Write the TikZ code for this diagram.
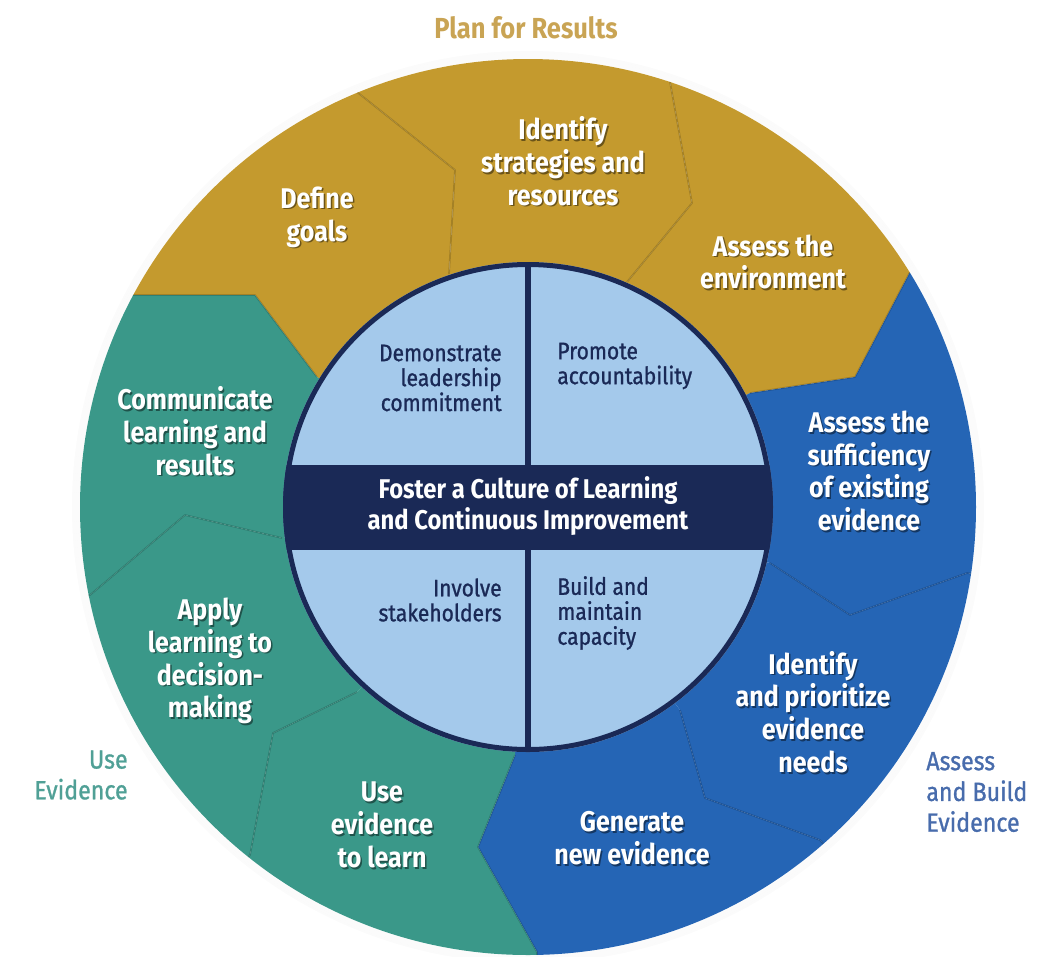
\documentclass[tikz,border=0pt]{standalone}
\usepackage{fontspec}
\setmainfont{Fira Sans}[FakeStretch=0.88]
\newfontfamily\hubfamily{Fira Sans}[FakeStretch=0.88, FakeBold=1]
\usetikzlibrary{calc}
\definecolor{goldseg}{RGB}{196,154,46}
\definecolor{tealseg}{RGB}{58,152,137}
\definecolor{blueseg}{RGB}{37,101,181}
\definecolor{hubfill}{RGB}{164,201,235}
\definecolor{navy}{RGB}{26,41,86}
\definecolor{goldlbl}{RGB}{201,164,84}
\definecolor{teallbl}{RGB}{80,160,150}
\definecolor{bluelbl}{RGB}{72,108,172}

\begin{document}
\begin{tikzpicture}[%
    x=0.2mm, y=-0.2mm,          % one unit is one pixel of the reference
    ]
% -------------------------------------------------
% Styles for the ring, the hub and the phase labels
\tikzset{
  ringtxt/.style={text=white, font=\bfseries\fontsize{16.2}{18.7}\selectfont, align=center, inner sep=0pt},
  ringsh/.style={ringtxt, text=black, text opacity=0.45, xshift=0.3mm, yshift=-0.35mm},
  hubtxt/.style={text=navy, font=\hubfamily\fontsize{13.6}{14.2}\selectfont, inner sep=0pt},
  bandtxt/.style={text=white, font=\bfseries\fontsize{15.4}{18}\selectfont, align=center, inner sep=0pt},
  phase/.style={font=\hubfamily\fontsize{15}{17.5}\selectfont, inner sep=0pt},
  seam/.style={draw=black, draw opacity=0.16, line width=0.35mm, line join=round},
}
\useasboundingbox (0,0) rectangle (1056,956);
% -------------------------------------------------
% Centre of the wheel and the nine seams (outer end, kink, inner end)
\coordinate (O) at (528,507);
\foreach \n/\o/\k/\i in {1/{357,92}/{455,170}/{449,274},
                         2/{670,82}/{692,203}/{627,282},
                         3/{910,272}/{855,377}/{750,393},
                         4/{967,573}/{850,615}/{770,563},
                         5/{820,840}/{705,798}/{680,710},
                         6/{537,952}/{478,847}/{515,755},
                         7/{250,855}/{273,733}/{357,692},
                         8/{90,595}/{185,515}/{282,538},
                         9/{132,295}/{255,295}/{317,377}}{
  \coordinate (o\n) at (\o);
  \coordinate (k\n) at (\k);
  \coordinate (i\n) at (\i);
}
% -------------------------------------------------
% Soft halo round the wheel
\foreach \r in {449,451,...,455}
  \draw[black!40, opacity=0.04, line width=0.4mm] (O) circle (\r);
% -------------------------------------------------
% The nine segments of the ring
\begin{scope}
  \clip (O) circle (448);
  \foreach \a/\b/\c in {9/1/goldseg, 1/2/goldseg, 2/3/goldseg,
                        3/4/blueseg, 4/5/blueseg, 5/6/blueseg,
                        6/7/tealseg, 7/8/tealseg, 8/9/tealseg}
    \fill[\c] ($(O)!1.6!(o\a)$) -- (o\a) -- (k\a) -- (i\a) -- (O)
      -- (i\b) -- (k\b) -- (o\b) -- ($(O)!1.6!(o\b)$) -- cycle;
  \foreach \n in {1,...,9}
    \draw[seam] ($(O)!1.05!(o\n)$) -- (o\n) -- (k\n) -- (i\n);
\end{scope}
% -------------------------------------------------
% The hub: four quarters, the band and the divider
\fill[hubfill] (O) circle (245);
\begin{scope}
  \clip (O) circle (245);
  \fill[navy] (200,465) rectangle (860,550);
  \fill[navy] (525,250) rectangle (531,770);
\end{scope}
\draw[navy, line width=1mm] (O) circle (242.5);
% -------------------------------------------------
% Ring texts, each with its drop shadow
\foreach \nm/\pos/\txt in {define/{317,217}/{Define\\goals},
    strat/{563,161}/{Identify\\strategies and\\resources},
    envir/{773,262}/{Assess the\\environment},
    suffic/{869,471}/{Assess the\\sufficiency\\of existing\\evidence},
    prior/{813,712}/{Identify\\and prioritize\\evidence\\needs},
    newev/{632,838}/{Generate\\new evidence},
    learn/{382,825}/{Use\\evidence\\to learn},
    apply/{210,661}/{Apply\\learning to\\decision-\\making},
    commu/{195,431}/{Communicate\\learning and\\results}}{
  \node[ringsh] (\nm-sh) at (\pos) {\txt};
  \node[ringtxt] (\nm) at (\pos) {\txt};
}
% -------------------------------------------------
% Hub texts
\node[hubtxt, align=right, anchor=east] (lead) at (502,378) {Demonstrate\\leadership\\commitment};
\node[hubtxt, align=left, anchor=west] (acct) at (557,366) {Promote\\accountability};
\node[hubtxt, align=right, anchor=east] (stake) at (502,600) {Involve\\stakeholders};
\node[hubtxt, align=left, anchor=west] (capa) at (557,613) {Build and\\maintain\\capacity};
\node[bandtxt] (culture) at (528,506) {Foster a Culture of Learning\\and Continuous Improvement};
% -------------------------------------------------
% Phase labels outside the wheel
\node[phase, text=goldlbl, font=\bfseries\fontsize{16.5}{17.5}\selectfont] (plan) at (526,28) {Plan for Results};
\node[phase, text=teallbl, align=right, anchor=east] (use) at (128,775) {Use\\Evidence};
\node[phase, text=bluelbl, align=left, anchor=west] (build) at (926,792) {Assess\\and Build\\Evidence};
\end{tikzpicture}
\end{document}
